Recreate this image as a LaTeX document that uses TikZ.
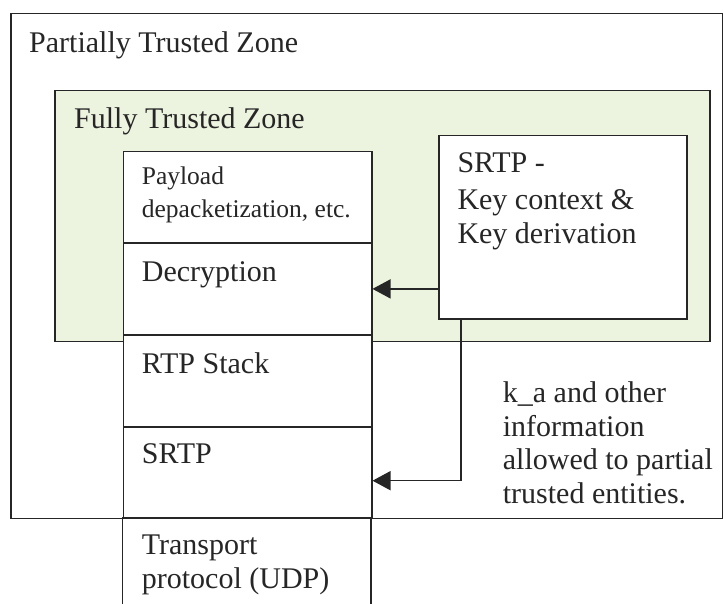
\documentclass[tikz,border=0pt]{standalone}
\usepackage{fontspec}
\setmainfont{Liberation Serif}
\usetikzlibrary{arrows.meta}
\definecolor{ink}{HTML}{262626}
\definecolor{trustgreen}{HTML}{ECF3DE}
\tikzset{
  frame/.style={draw=ink, line width=1.5pt, inner sep=0pt, anchor=north west},
  cell/.style={frame, fill=white, minimum width=248.3pt},
  % multi-line labels are placed by the baseline of their last line
  label/.style={text=ink, inner sep=0pt, anchor=base west, align=left,
    font=\fontsize{30}{33.5}\selectfont},
  smalllabel/.style={label, font=\fontsize{25.5}{33}\selectfont},
  arr/.style={draw=ink, line width=1.5pt, -{Triangle[length=18pt,width=19pt]}},
}
\begin{document}
\begin{tikzpicture}[x=1pt,y=-1pt]
\useasboundingbox (0,0) rectangle (723,604);
\clip (0,0) rectangle (723,604);

% zones
\node[frame, minimum width=711.5pt, minimum height=504.7pt] (outer) at (10,13) {};
\node[frame, fill=trustgreen, minimum width=655pt, minimum height=250.7pt] (full) at (54.3,90) {};

% protocol stack
\node[cell, minimum height=91.3pt] (payload) at (122.7,151) {};
\node[cell, minimum height=91.7pt] (decrypt) at (122.7,242.3) {};
\node[cell, minimum height=92pt] (rtp) at (122.7,334) {};
\node[cell, minimum height=91.7pt] (srtp) at (122.7,426) {};
\coordinate (tl) at (122.7,517.7);
\coordinate (tr) at (371,517.7);
\draw[ink, line width=1.5pt] (tl |- 0,620) -- (tl) -- (tr) -- (tr |- 0,620);

% key management box
\node[frame, fill=white, minimum width=247.7pt, minimum height=183.3pt] (key) at (438.3,135) {};

% texts
\node[label] (ptz) at (29,52.7) {Partially Trusted Zone};
\node[label] (ftz) at (74,128.3) {Fully Trusted Zone};
\node[smalllabel] (tpay) at (141.7,218) {Payload\\depacketization, etc.};
\node[label] (tdec) at (141.7,281.7) {Decryption};
\node[label] (trtp) at (141.7,373.3) {RTP Stack};
\node[label] (tsrtp) at (141.7,463.3) {SRTP};
\node[label] (ttr) at (141.7,588) {Transport\\protocol (UDP)};
\node[label] (tkey) at (457.3,243.3) {SRTP -\\[3.5pt]Key context \&\\Key derivation};
\node[label] (tka) at (502.7,503.3) {k\_a and other\\information\\allowed to partial\\trusted entities.};

% connectors
\draw[arr] (key.west |- decrypt.east) -- (decrypt.east);
\draw[arr] ([xshift=22.7pt]key.south west) |- ([yshift=-8.1pt]srtp.east);
\end{tikzpicture}
\end{document}
